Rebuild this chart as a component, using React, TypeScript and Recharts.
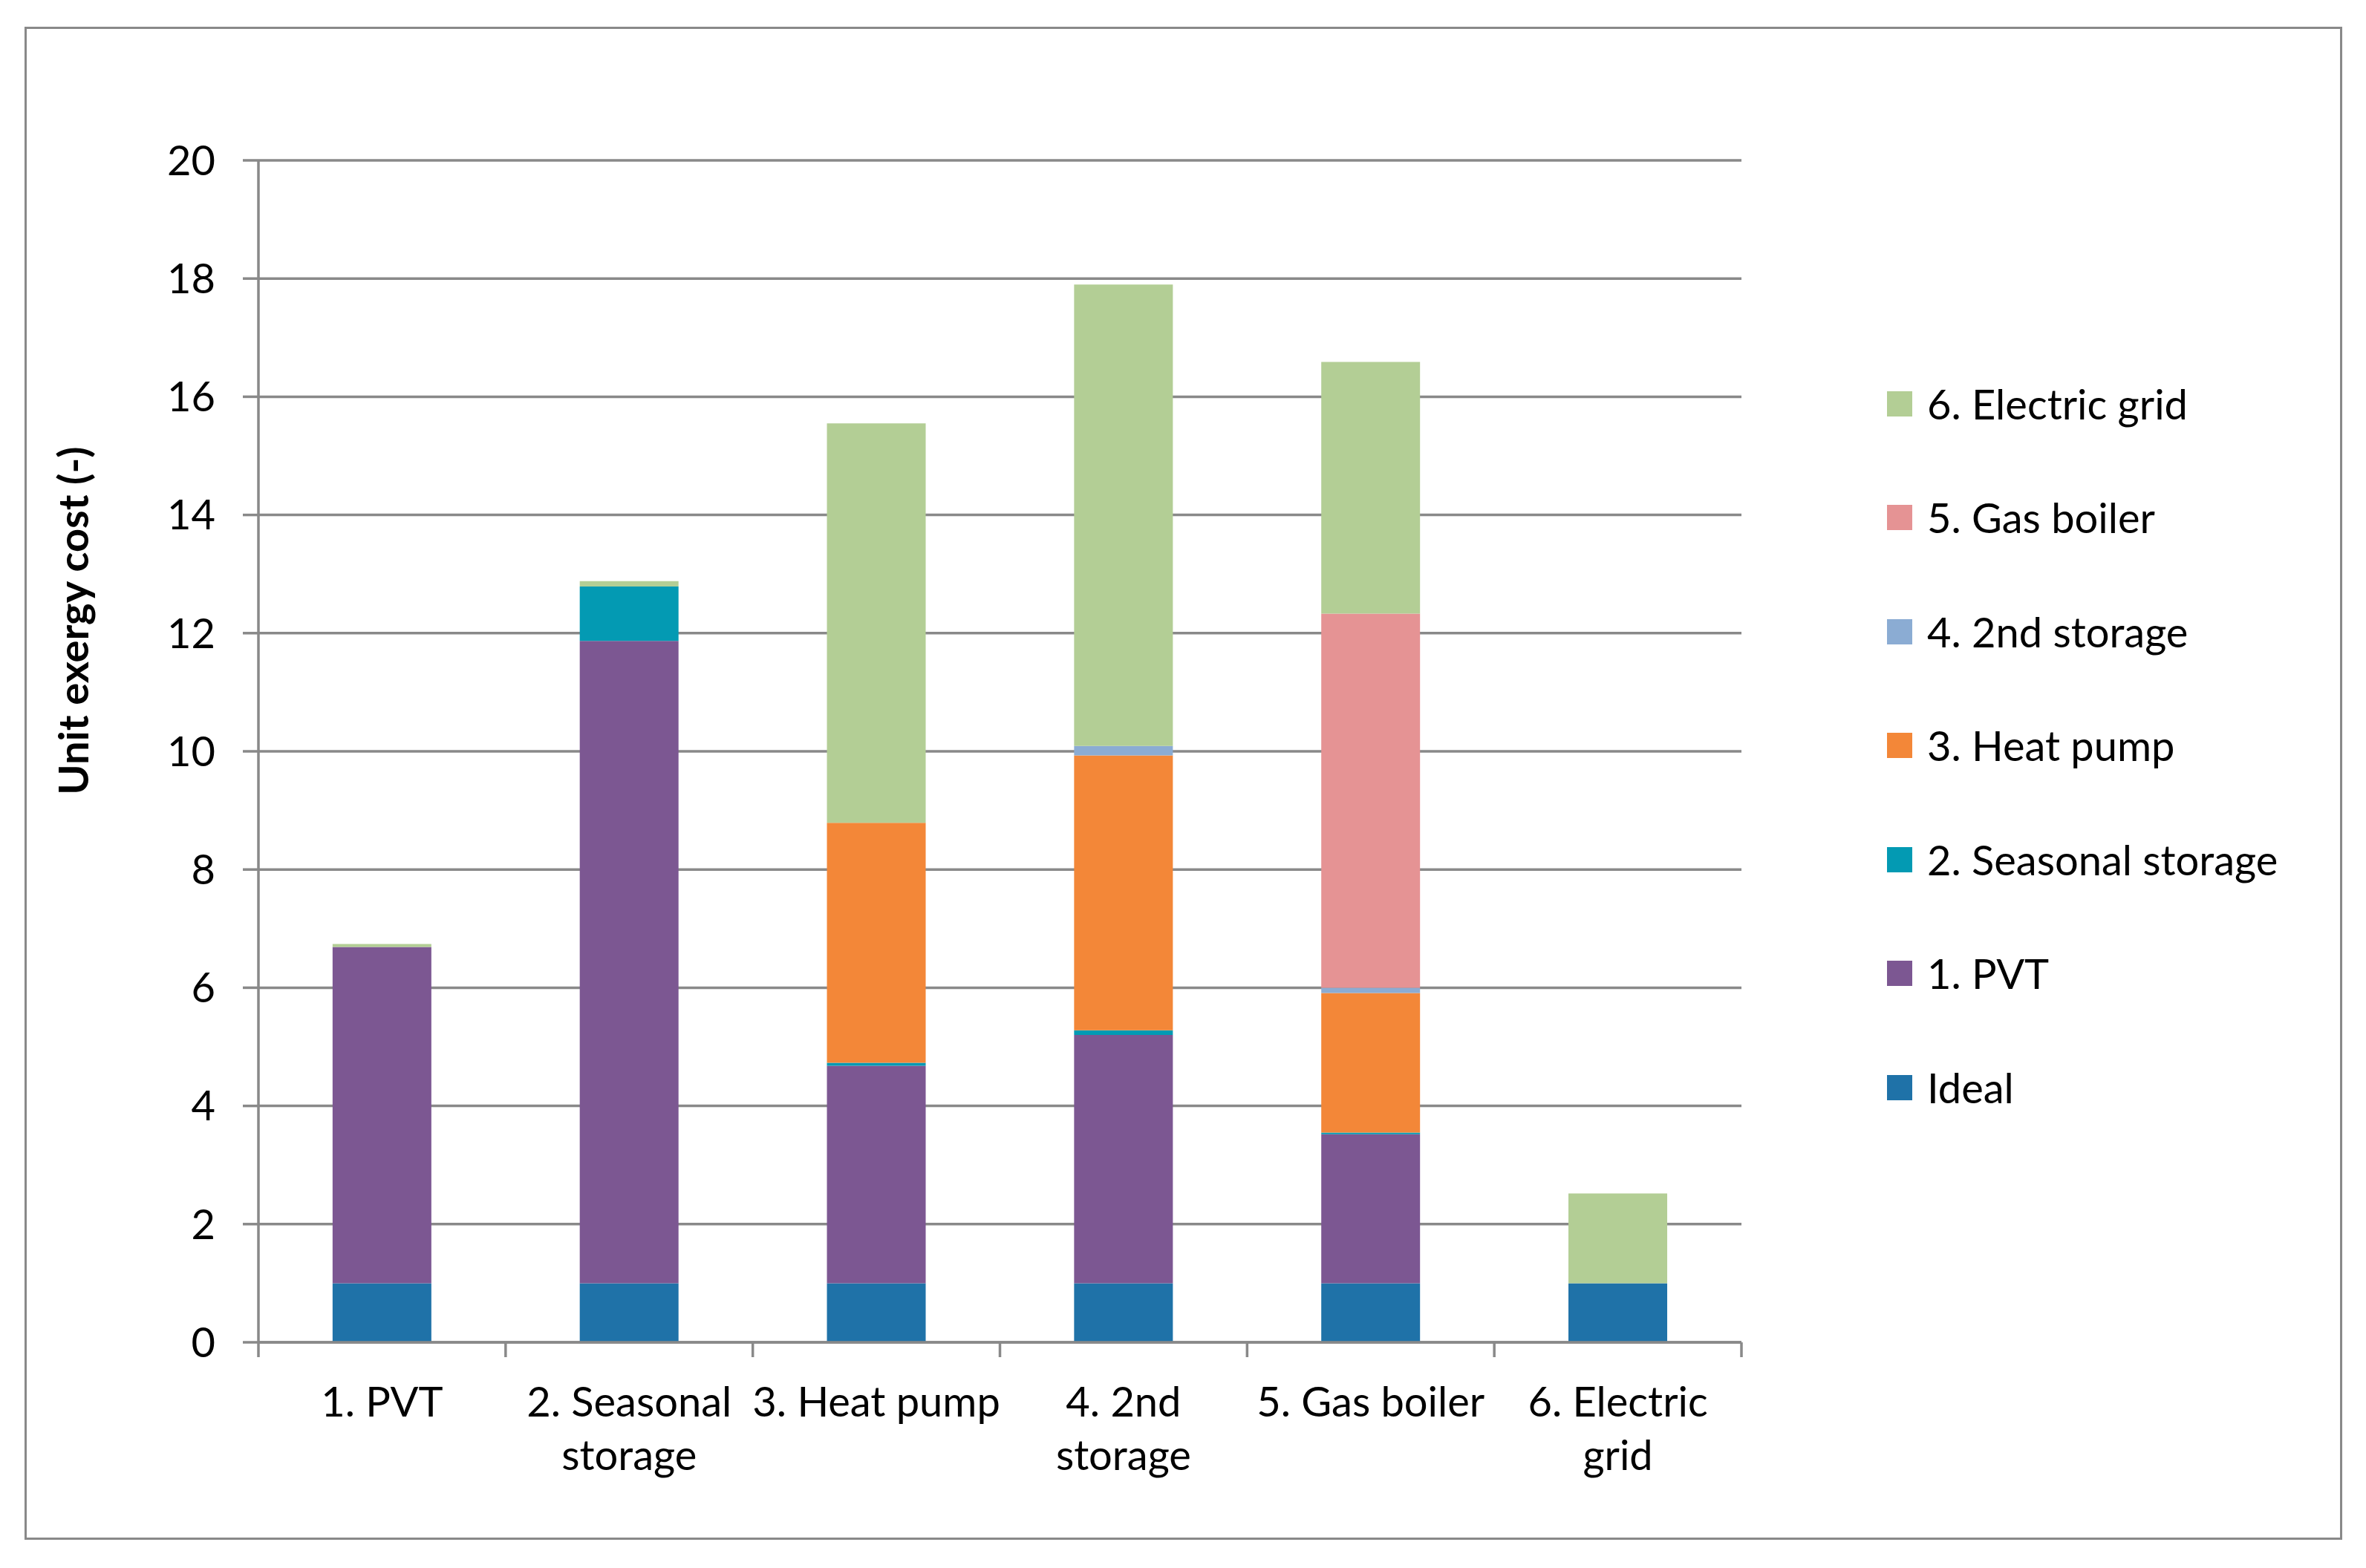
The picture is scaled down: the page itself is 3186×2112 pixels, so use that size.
import React from 'react';
import { BarChart, Bar, XAxis, YAxis, CartesianGrid, Legend } from 'recharts';

const categories = ['1. PVT', '2. Seasonal\nstorage', '3. Heat pump', '4. 2nd\nstorage', '5. Gas boiler', '6. Electric\ngrid'];
const ideal = [1, 1, 1, 1, 1, 1];
const pvt = [5.69, 10.87, 3.68, 4.2, 2.52, 0];
const seasonalStorage = [0, 0.92, 0.05, 0.08, 0.03, 0];
const heatPump = [0, 0, 4.06, 4.65, 2.36, 0];
const secondStorage = [0, 0, 0, 0.16, 0.09, 0];
const gasBoiler = [0, 0, 0, 0, 6.33, 0];
const electricGrid = [0.05, 0.09, 6.76, 7.81, 4.26, 1.52];
const yTicks = [0, 2, 4, 6, 8, 10, 12, 14, 16, 18, 20];
const yTitle = 'Unit exergy cost (-)';

const seriesKeys = ['ideal', 'pvt', 'seasonal', 'heatPump', 'secondStorage', 'gasBoiler', 'electricGrid'];
const seriesNames = ['Ideal', '1. PVT', '2. Seasonal storage', '3. Heat pump', '4. 2nd storage', '5. Gas boiler', '6. Electric grid'];
const seriesColors = ['#1F72A8', '#7C5792', '#039AB3', '#F38738', '#8BACD3', '#E59394', '#B3CE95'];
const seriesValues = [ideal, pvt, seasonalStorage, heatPump, secondStorage, gasBoiler, electricGrid];

const data = categories.map((c, i) => {
  const row: Record<string, any> = { category: c };
  seriesKeys.forEach((k, j) => {
    row[k] = seriesValues[j][i];
  });
  return row;
});

const FONT = "Lato, 'Open Sans', sans-serif";
const GRID = '#898989';
const LINE_W = 3.5;

const XTick = (props: any) => {
  const { x, y, payload, index, width } = props;
  const band = (width || 1997) / categories.length;
  const lines = String(payload.value).split('\n');
  return (
    <g>
      <line x1={x - band / 2} y1={y} x2={x - band / 2} y2={y + 20} stroke={GRID} strokeWidth={LINE_W} />
      {index === categories.length - 1 && (
        <line x1={x + band / 2} y1={y} x2={x + band / 2} y2={y + 20} stroke={GRID} strokeWidth={LINE_W} />
      )}
      <text x={x} y={y + 100} textAnchor="middle" fontFamily={FONT} fontSize={56} fill="#000">
        {lines.map((l, i) => (
          <tspan key={i} x={x} dy={i === 0 ? 0 : 72}>
            {l}
          </tspan>
        ))}
      </text>
    </g>
  );
};

const LegendContent = (props: any) => {
  const items = [...(props.payload || [])].sort(
    (a: any, b: any) => seriesNames.indexOf(b.value) - seriesNames.indexOf(a.value)
  );
  return (
    <div style={{ display: 'flex', flexDirection: 'column' }}>
      {items.map((it: any, i: number) => (
        <div key={i} style={{ height: 153.5, display: 'flex', alignItems: 'center' }}>
          <div style={{ width: 34, height: 34, background: it.color, marginRight: 20, flex: 'none' }} />
          <span style={{ fontFamily: FONT, fontSize: 56, color: '#000', whiteSpace: 'nowrap', lineHeight: 1 }}>{it.value}</span>
        </div>
      ))}
    </div>
  );
};

export default function App() {
  return (
    <div style={{ position: 'absolute', left: 0, top: 0, width: 3186, height: 2112, background: '#fff' }}>
      <BarChart
        width={3186}
        height={2112}
        data={data}
        margin={{ top: 216, right: 841, bottom: 104, left: 228 }}
        barCategoryGap="30%"
      >
        <CartesianGrid vertical={false} stroke={GRID} strokeWidth={LINE_W} />
        <XAxis
          dataKey="category"
          height={200}
          interval={0}
          tickLine={false}
          tickSize={0}
          tickMargin={0}
          axisLine={{ stroke: GRID, strokeWidth: LINE_W }}
          tick={<XTick />}
        />
        <YAxis
          width={120}
          domain={[0, 20]}
          ticks={yTicks}
          interval={0}
          tickSize={21}
          tickMargin={37}
          axisLine={{ stroke: GRID, strokeWidth: LINE_W }}
          tickLine={{ stroke: GRID, strokeWidth: LINE_W }}
          tick={{ fontFamily: FONT, fontSize: 56, fill: '#000' }}
          label={{
            content: () => (
              <text
                x={119}
                y={836}
                transform="rotate(-90 119 836)"
                textAnchor="middle"
                fontFamily={FONT}
                fontWeight={700}
                fontSize={56}
                fill="#000"
              >
                {yTitle}
              </text>
            ),
          }}
        />
        <Legend
          layout="horizontal"
          align="center"
          verticalAlign="middle"
          content={<LegendContent />}
          wrapperStyle={{ left: 2541, top: 466.75, width: 620, height: 1075 }}
        />
        {seriesKeys.map((k, j) => (
          <Bar key={k} dataKey={k} name={seriesNames[j]} stackId="a" fill={seriesColors[j]} isAnimationActive={false} />
        ))}
      </BarChart>
      <div
        style={{
          position: 'absolute',
          left: 33,
          top: 36,
          width: 3121,
          height: 2038,
          border: `3px solid ${GRID}`,
          boxSizing: 'border-box',
          pointerEvents: 'none',
        }}
      />
    </div>
  );
}
